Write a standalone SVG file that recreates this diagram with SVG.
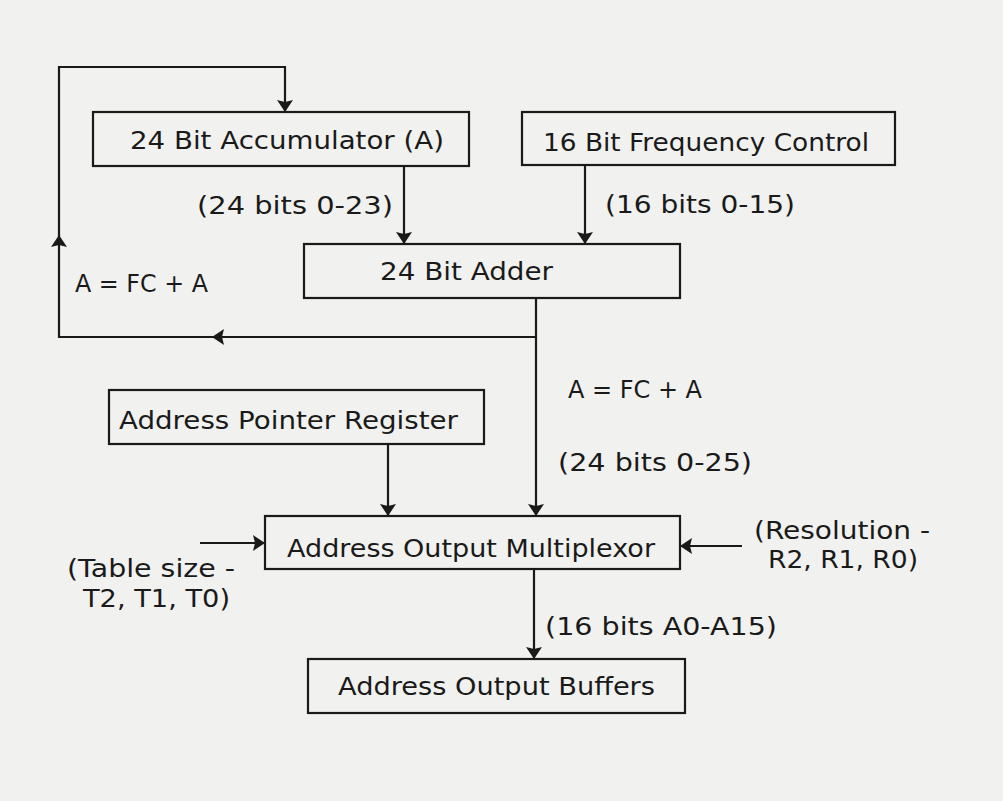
<svg xmlns="http://www.w3.org/2000/svg" width="1003" height="801" viewBox="0 0 1003 801">
<style>
.box{fill:none;stroke:#1a1a1a;stroke-width:2.2}
.ln{fill:none;stroke:#1a1a1a;stroke-width:2.2}
.t{font-family:"DejaVu Sans",sans-serif;font-size:24px;fill:#1a1a1a}
</style>
<defs>
<marker id="ah" viewBox="0 0 12 16" refX="12" refY="8" markerWidth="12" markerHeight="16" markerUnits="userSpaceOnUse" orient="auto">
<path d="M0,0 L12,8 L0,16 L2,8 z" fill="#1a1a1a"/>
</marker>
</defs>
<rect width="1003" height="801" fill="#f1f1ef"/>
<g id="connectors">
<path class="ln" d="M536,337 L212,337" marker-end="url(#ah)"/>
<path class="ln" d="M213,337 L59,337 L59,235" marker-end="url(#ah)"/>
<path class="ln" d="M59,236 L59,67 L285,67 L285,112" marker-end="url(#ah)"/>
<path class="ln" d="M404,166 L404,244" marker-end="url(#ah)"/>
<path class="ln" d="M585,165 L585,244" marker-end="url(#ah)"/>
<path class="ln" d="M536,298 L536,516" marker-end="url(#ah)"/>
<path class="ln" d="M388,444 L388,516" marker-end="url(#ah)"/>
<path class="ln" d="M200,543 L265,543" marker-end="url(#ah)"/>
<path class="ln" d="M742,546 L680,546" marker-end="url(#ah)"/>
<path class="ln" d="M534,569 L534,659" marker-end="url(#ah)"/>
</g>
<g id="accumulator">
<rect class="box" x="93" y="112" width="376" height="54"/>
<text class="t" x="130" y="149" textLength="314" lengthAdjust="spacingAndGlyphs">24 Bit Accumulator (A)</text>
</g>
<g id="freq-control">
<rect class="box" x="522" y="112" width="373" height="53"/>
<text class="t" x="543" y="151" textLength="326" lengthAdjust="spacingAndGlyphs">16 Bit Frequency Control</text>
</g>
<g id="adder">
<rect class="box" x="304" y="244" width="376" height="54"/>
<text class="t" x="380" y="280" textLength="173" lengthAdjust="spacingAndGlyphs">24 Bit Adder</text>
</g>
<g id="pointer-register">
<rect class="box" x="109" y="390" width="375" height="54"/>
<text class="t" x="119" y="429" textLength="339" lengthAdjust="spacingAndGlyphs">Address Pointer Register</text>
</g>
<g id="multiplexor">
<rect class="box" x="265" y="516" width="415" height="53"/>
<text class="t" x="287" y="557" textLength="368" lengthAdjust="spacingAndGlyphs">Address Output Multiplexor</text>
</g>
<g id="buffers">
<rect class="box" x="308" y="659" width="377" height="54"/>
<text class="t" x="338" y="695" textLength="317" lengthAdjust="spacingAndGlyphs">Address Output Buffers</text>
</g>
<g id="labels">
<text class="t" x="197" y="214" textLength="196" lengthAdjust="spacingAndGlyphs">(24 bits 0-23)</text>
<text class="t" x="605" y="213" textLength="190" lengthAdjust="spacingAndGlyphs">(16 bits 0-15)</text>
<text class="t" x="75" y="292" textLength="133" lengthAdjust="spacingAndGlyphs">A = FC + A</text>
<text class="t" x="568" y="398" textLength="134" lengthAdjust="spacingAndGlyphs">A = FC + A</text>
<text class="t" x="558" y="471" textLength="194" lengthAdjust="spacingAndGlyphs">(24 bits 0-25)</text>
<text class="t" x="67" y="577" textLength="168" lengthAdjust="spacingAndGlyphs">(Table size -</text>
<text class="t" x="83" y="607" textLength="147" lengthAdjust="spacingAndGlyphs">T2, T1, T0)</text>
<text class="t" x="754" y="539" textLength="176" lengthAdjust="spacingAndGlyphs">(Resolution -</text>
<text class="t" x="768" y="568" textLength="150" lengthAdjust="spacingAndGlyphs">R2, R1, R0)</text>
<text class="t" x="545" y="635" textLength="232" lengthAdjust="spacingAndGlyphs">(16 bits A0-A15)</text>
</g>
</svg>
